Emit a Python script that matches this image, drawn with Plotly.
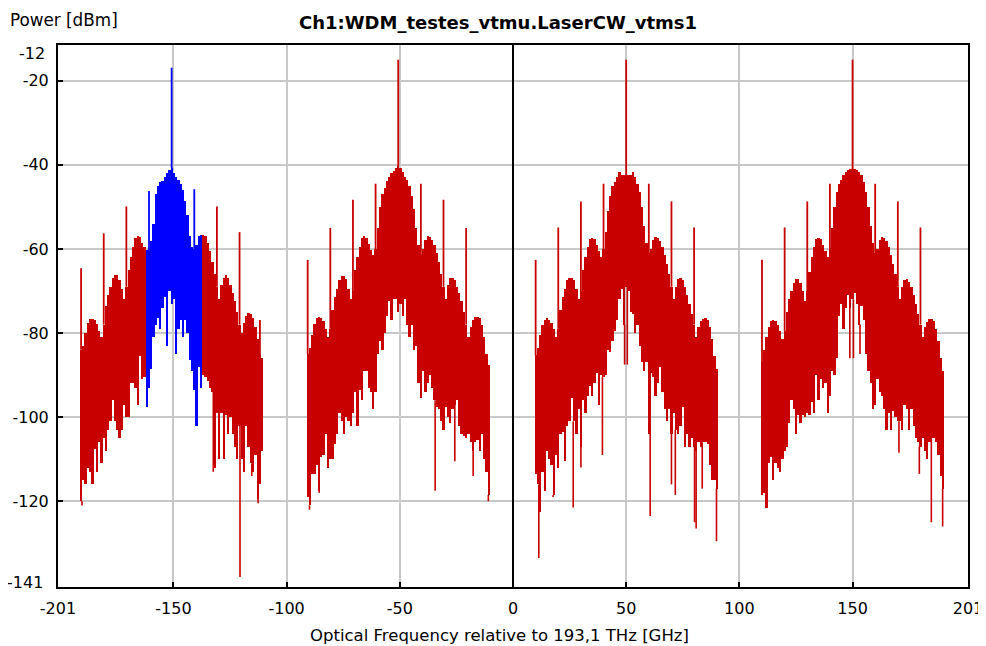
import plotly.graph_objects as go

# ---------------- data ----------------
offsets = list(range(-40, 41))            # GHz, relative to each carrier (1 GHz bins)
carriers = [-150.8, -50.7, 50.0, 150.0]   # GHz, relative to 193,1 THz
blue_band = [-162.5, -137.2]              # highlighted band of channel 1

upper_ch1 = [-84, -83, -80, -77.5, -76.7, -76.7, -77, -77.8, -79.5, -81,
             -78, -73.5, -71, -69, -67, -66.3, -66.3, -67.5, -69.5, -72,
             -69, -65, -62, -59.5, -57.5, -57, -57.2, -58.5, -59.5, -60.3,
             -60, -58, -54, -47, -45, -44, -43.8, -43, -42, -41.2,
             -40.8,
             -42, -43, -43.5, -44.5, -46, -48.5, -52, -57, -59.5, -60,
             -59, -57, -56.6, -56.6, -57, -58.5, -60.5, -63, -66, -69,
             -72, -68.5, -66.8, -66.3, -67, -68.5, -70.5, -72.5, -75, -78,
             -80, -77.5, -76, -75.3, -75.5, -76.5, -78.5, -81.5, -85.3, -86]
upper_ch2 = [-85, -83.5, -80.5, -77.8, -76.5, -76.1, -76.5, -77.2, -79, -81,
             -79, -74.5, -71.5, -69.5, -67.3, -66.5, -66.4, -67.2, -69.5, -72,
             -70, -65, -61.8, -59.5, -57.4, -57, -57.3, -58.8, -60.3, -61.5,
             -60, -55, -50, -47, -45.5, -43.8, -42.8, -42, -41.5, -40.8,
             -40.3,
             -40.8, -41.8, -42.8, -43.7, -45, -47.5, -50.5, -55, -59, -61.5,
             -60, -57.8, -57, -57.2, -57.8, -59, -61, -63, -66, -69,
             -72, -68.5, -66.8, -66.8, -67.5, -69, -70.5, -72.5, -75, -78,
             -81, -78.5, -77, -76.3, -76.1, -76.5, -78, -81, -85, -87.5]
upper_ch3 = [-85.3, -83.5, -80.5, -78, -76.8, -76.5, -76.8, -77.5, -79, -81,
             -79, -74.5, -71.5, -69.5, -67.5, -66.8, -66.8, -67.5, -69.5, -72,
             -70, -65, -62, -59.5, -57.6, -57.4, -57.6, -59, -60.5, -62,
             -60, -56, -51, -47.5, -45, -44, -43, -41.6, -42.4, -42.4,
             -42.4,
             -42.4, -42.4, -41.6, -43, -44.5, -46.5, -50, -54.5, -58.5, -61,
             -60, -57.8, -57.2, -57.4, -58, -59.5, -61.5, -63.5, -66, -69,
             -72, -69, -67.2, -66.8, -67.5, -69, -71, -73, -75.5, -78,
             -81, -78.5, -77.2, -76.6, -76.5, -77, -78.5, -81.5, -85.5, -88.6]
upper_ch4 = [-86.9, -84, -81, -78.5, -77.2, -76.9, -77.2, -78, -79.5, -81.5,
             -79.5, -75, -72, -70, -68, -67.2, -67.2, -68, -70, -72.5,
             -70, -65.5, -62, -59.5, -57.6, -57.4, -57.6, -59, -60.5, -62,
             -60, -55, -50, -46.5, -44.5, -43.5, -42.5, -41.8, -41.3, -41,
             -41,
             -41, -41.3, -41.8, -42.5, -44, -46.5, -50, -54.5, -58.5, -61,
             -60, -57.8, -57.2, -57.4, -58, -59.5, -61.5, -63.5, -66, -69,
             -72, -69, -67.4, -67.2, -67.8, -69, -71, -73, -75.5, -78,
             -81, -78.5, -77.3, -76.7, -76.6, -77.2, -79, -82, -86, -89]

lower_ch1 = [-120, -115, -116, -112, -113, -116, -107.5, -113, -106, -111,
             -105, -108, -103, -101, -96, -101, -103, -105, -103, -97,
             -100, -100, -92, -92, -93, -97, -85.5, -91, -90.5, -97.5,
             -93, -88.6, -81, -78, -76.5, -79, -74, -71.5, -83, -70,
             -73,
             -72, -85, -79, -77, -81, -77, -80, -86.5, -89, -93.5,
             -102, -88, -93, -90, -90.5, -91.5, -93, -94, -112, -99,
             -110, -99, -110, -99.5, -104, -100, -104, -107, -110, -102,
             -110, -113, -102, -107, -111, -113, -109, -119.5, -116, -108]
lower_ch2 = [-119, -121, -113.5, -113.5, -111.5, -117.5, -109.5, -109, -104, -112,
             -110, -110, -106.5, -104, -99, -101, -104, -100, -101, -102,
             -99, -94, -102, -93.5, -96, -89, -89, -93, -94, -98,
             -94, -85, -82, -84, -80, -76, -72.5, -77, -72, -72,
             -75,
             -73, -76, -72, -78, -81, -78, -84, -83, -92, -95.5,
             -89, -94, -92, -90, -93, -96, -97.5, -98, -101, -103,
             -97.5, -100, -101.5, -98, -97, -96, -102, -104, -104.5, -105,
             -104, -106, -108, -106, -105.5, -108, -104, -110, -113, -118.5]
lower_ch3 = [-113.5, -116, -122.5, -113, -117.5, -108, -110, -111.5, -118.5, -109,
             -112, -104, -103.5, -110.5, -102, -101, -95.5, -101, -104, -98,
             -107, -96, -99, -95, -92.5, -95, -92, -89.6, -97, -90,
             -90.5, -90, -84, -84.5, -82, -79.5, -77, -72, -69.5, -78,
             -69,
             -70, -75, -75.5, -80, -78, -83, -87, -89, -87, -104,
             -89.5, -90.5, -95, -92, -88, -94, -98, -101, -98, -104,
             -99, -103, -104, -102, -97.5, -107, -104, -107, -105, -107,
             -108, -106, -107, -106, -106, -106.5, -111.5, -115, -115, -117]
lower_ch4 = [-118.5, -118, -121.5, -111, -109.5, -115, -111, -112, -113, -110,
             -108, -107, -101.5, -96, -98, -104, -99.5, -101.5, -99.5, -100,
             -99, -99.5, -96.5, -99, -90, -96, -91, -93, -92, -99,
             -95, -89, -90, -86, -76, -73, -79, -74, -71, -74,
             -72,
             -70.5, -73, -78, -73.5, -77, -85, -89, -92, -98, -97,
             -91, -94, -95, -98, -103, -99, -103, -98.5, -100, -101,
             -101, -103, -97, -98, -103, -98, -102, -105, -106, -107,
             -105, -108, -110, -106, -105, -105, -106, -109, -114, -117]

spike_off_ch1 = [-40, -30, -20, -10, 0, 10, 20, 30, 39]
spike_top_ch1 = [-64.6, -56.3, -49.9, -46.2, -16.9, -45.8, -49.9, -56.0, -76.9]
spike_off_ch2 = [-40, -30, -20, -10, 0, 10, 20, 30]
spike_top_ch2 = [-62.6, -55.0, -48.3, -44.5, -15.0, -44.5, -48.3, -55.0]
spike_off_ch3 = [-40, -30, -20, -10, 0, 10, 20, 30]
spike_top_ch3 = [-62.6, -54.9, -48.7, -44.5, -15.0, -44.5, -48.7, -54.9]
spike_off_ch4 = [-40, -30, -20, -10, 0, 10, 20, 30]
spike_top_ch4 = [-62.6, -54.9, -48.7, -44.5, -15.0, -44.5, -48.7, -54.9]

dip_off_ch1 = [-39.6, 18.4, 30.2, 35.4, 38.2]
dip_bot_ch1 = [-121, -113, -138, -114, -120.5]
dip_off_ch2 = [-39.2, -34.9, 16.3, 25.0, 33.1, 39.8]
dip_bot_ch2 = [-122, -118, -117.5, -110.5, -114, -120]
dip_off_ch3 = [-38.6, -32.3, -23.4, -20.0, -10.5, -0.7, 0.5, 10.6, 20.0, 21.7, 30.2, 30.9, 33.6, 39.9]
dip_bot_ch3 = [-133.5, -119, -121.5, -112, -109, -87.5, -87.5, -123.5, -116, -118.5, -125, -126.5, -117, -129.5]
dip_off_ch4 = [-38.2, -1.2, 0.4, 3.3, 20.5, 29.5, 34.8, 39.8]
dip_bot_ch4 = [-121.5, -86, -86, -85, -108.5, -113.5, -125, -126]

x_tick_vals = [-201, -150, -100, -50, 0, 50, 100, 150, 201]
x_tick_text = ["-201", "-150", "-100", "-50", "0", "50", "100", "150", "201"]
y_tick_vals = [-20, -40, -60, -80, -100, -120]
y_tick_text = ["-20", "-40", "-60", "-80", "-100", "-120"]
y_end_labels = ["-12", "-141"]

# ---------------- styling ----------------
RED = "#C80000"
BLUE = "#0000FF"
FONT = "DejaVu Sans"

uppers = [upper_ch1, upper_ch2, upper_ch3, upper_ch4]
lowers = [lower_ch1, lower_ch2, lower_ch3, lower_ch4]
spike_offs = [spike_off_ch1, spike_off_ch2, spike_off_ch3, spike_off_ch4]
spike_tops = [spike_top_ch1, spike_top_ch2, spike_top_ch3, spike_top_ch4]
dip_offs = [dip_off_ch1, dip_off_ch2, dip_off_ch3, dip_off_ch4]
dip_bots = [dip_bot_ch1, dip_bot_ch2, dip_bot_ch3, dip_bot_ch4]


def in_blue(f):
    return blue_band[0] <= f <= blue_band[1]


fig = go.Figure()

for c, up, lo, so, st, do, db in zip(carriers, uppers, lowers, spike_offs, spike_tops, dip_offs, dip_bots):
    xs = [c + o for o in offsets]
    cols = [BLUE if in_blue(x) else RED for x in xs]
    fig.add_trace(go.Bar(
        x=xs, base=lo, y=[u - l for u, l in zip(up, lo)], width=1.0,
        marker=dict(color=cols, line=dict(width=0)), hoverinfo="skip"))

    # downward thin lines
    for col in (RED, BLUE):
        dx, dy = [], []
        for o, b in zip(do, db):
            f = c + o
            if (BLUE if in_blue(f) else RED) != col:
                continue
            k = offsets.index(int(round(o)))
            dx += [f, f, None]
            dy += [lo[k], b, None]
        if dx:
            fig.add_trace(go.Scatter(x=dx, y=dy, mode="lines",
                                     line=dict(color=col, width=1.6), hoverinfo="skip"))

    # spectral spikes
    for col in (RED, BLUE):
        sx, sy = [], []
        for o, t in zip(so, st):
            f = c + o
            if (BLUE if in_blue(f) else RED) != col:
                continue
            k = offsets.index(o)
            sx += [f, f, None]
            sy += [up[k], t, None]
        if sx:
            fig.add_trace(go.Scatter(x=sx, y=sy, mode="lines",
                                     line=dict(color=col, width=1.8), hoverinfo="skip"))

# the page body has an 8 px default margin, so the figure is drawn 8 px in from the corner
fig.update_layout(
    width=978, height=638,
    margin=dict(l=50, r=18, t=37, b=59, autoexpand=False),
    paper_bgcolor="white", plot_bgcolor="white",
    showlegend=False, barmode="overlay", bargap=0,
    font=dict(family=FONT, size=16, color="black"),
)
fig.update_xaxes(
    range=[-201, 201], tickmode="array", tickvals=x_tick_vals, ticktext=x_tick_text,
    automargin=False,
    showgrid=True, gridcolor="#C8C8C8", gridwidth=1.5,
    zeroline=True, zerolinecolor="black", zerolinewidth=1.5,
    showline=True, linecolor="black", linewidth=2, mirror=True,
    ticks="inside", ticklen=5, tickcolor="black", tickwidth=1.5,
    tickfont=dict(family=FONT, size=16, color="black"), ticklabelstandoff=6,
)
fig.update_yaxes(
    range=[-140.4, -11.5], tickmode="array", tickvals=y_tick_vals, ticktext=y_tick_text,
    automargin=False,
    showgrid=True, gridcolor="#C8C8C8", gridwidth=1.5, zeroline=False,
    showline=True, linecolor="black", linewidth=2, mirror=True,
    ticks="inside", ticklen=5, tickcolor="black", tickwidth=1.5,
    tickfont=dict(family=FONT, size=16, color="black"), ticklabelstandoff=4,
)

annos = [
    dict(text="Power [dBm]", xref="paper", yref="paper", x=-0.0545, y=1.046,
         xanchor="left", yanchor="middle", showarrow=False, font=dict(size=16.8)),
    dict(text="<b>Ch1:WDM_testes_vtmu.LaserCW_vtms1</b>", xref="paper", yref="paper",
         x=0.484, y=1.0424, xanchor="center", yanchor="middle", showarrow=False,
         font=dict(size=18)),
    dict(text="Optical Frequency relative to 193,1 THz [GHz]", xref="paper", yref="paper",
         x=0.4857, y=-0.0904, xanchor="center", yanchor="middle", showarrow=False,
         font=dict(size=16.5)),
    dict(text=y_end_labels[0], xref="paper", yref="paper", x=-0.0121, y=0.9834,
         xanchor="right", yanchor="middle", showarrow=False, font=dict(size=16)),
    dict(text=y_end_labels[1], xref="paper", yref="paper", x=-0.0143, y=0.0079,
         xanchor="right", yanchor="middle", showarrow=False, font=dict(size=16)),
]
fig.update_layout(annotations=annos)

fig.write_html("out.html")
